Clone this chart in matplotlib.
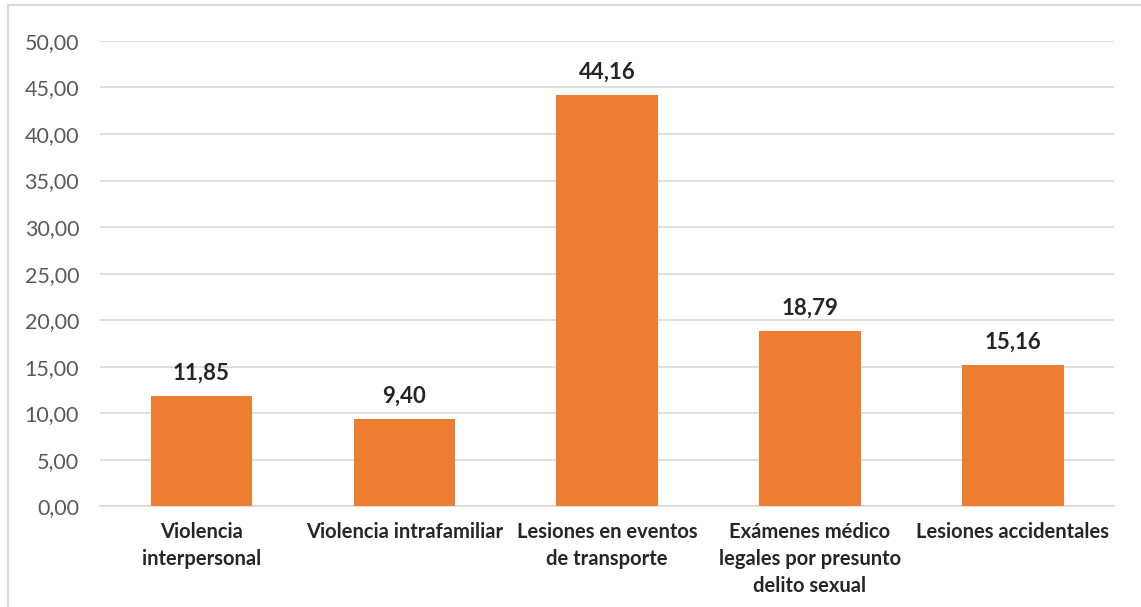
import matplotlib.pyplot as plt
from matplotlib.patches import Rectangle

# data
categorias = ["Violencia\ninterpersonal", "Violencia intrafamiliar",
              "Lesiones en eventos\nde transporte",
              "Exámenes médico\nlegales por presunto\ndelito sexual",
              "Lesiones accidentales"]
valores = [11.85, 9.40, 44.16, 18.79, 15.16]
yticks = [0, 5, 10, 15, 20, 25, 30, 35, 40, 45, 50]

plt.rcParams['font.family'] = ['Lato', 'DejaVu Sans']

fig = plt.figure(figsize=(11.41, 6.07), dpi=100)
ax = fig.add_axes([0.0876, 0.166, 0.889, 0.7665])

# rand om de grafiek
fig.patches.append(Rectangle((8 / 1141, -0.1), 1.2, 1 - 5 / 607 + 0.1,
                             transform=fig.transFigure, fill=False,
                             edgecolor='#D9D9D9', linewidth=1.5))

x = list(range(len(categorias)))
ax.bar(x, valores, width=0.5, color='#ED7D31', zorder=3)

for xi, v in zip(x, valores):
    ax.annotate(f"{v:.2f}".replace('.', ','), (xi, v), xytext=(0, 9),
                textcoords='offset points', ha='center', va='bottom',
                fontsize=16, fontweight='bold', color='#262626')

ax.set_xlim(-0.5, len(categorias) - 0.5)
ax.set_ylim(0, 50)
ax.set_yticks(yticks)
ax.set_yticklabels([f"{t:.2f}".replace('.', ',') for t in yticks],
                   fontsize=15.5, color='#595959')
ax.set_xticks(x)
ax.set_xticklabels(categorias, fontsize=14.5, fontweight='bold',
                   color='#262626', linespacing=1.45)
ax.tick_params(axis='both', length=0)
ax.tick_params(axis='x', pad=11)
ax.tick_params(axis='y', pad=15)

ax.grid(axis='y', color='#D9D9D9', linewidth=1.2, zorder=0)
for s in ['top', 'right', 'left']:
    ax.spines[s].set_visible(False)
ax.spines['bottom'].set_color('#D9D9D9')
ax.spines['bottom'].set_linewidth(1.2)

fig.savefig('out.png', dpi=100)
